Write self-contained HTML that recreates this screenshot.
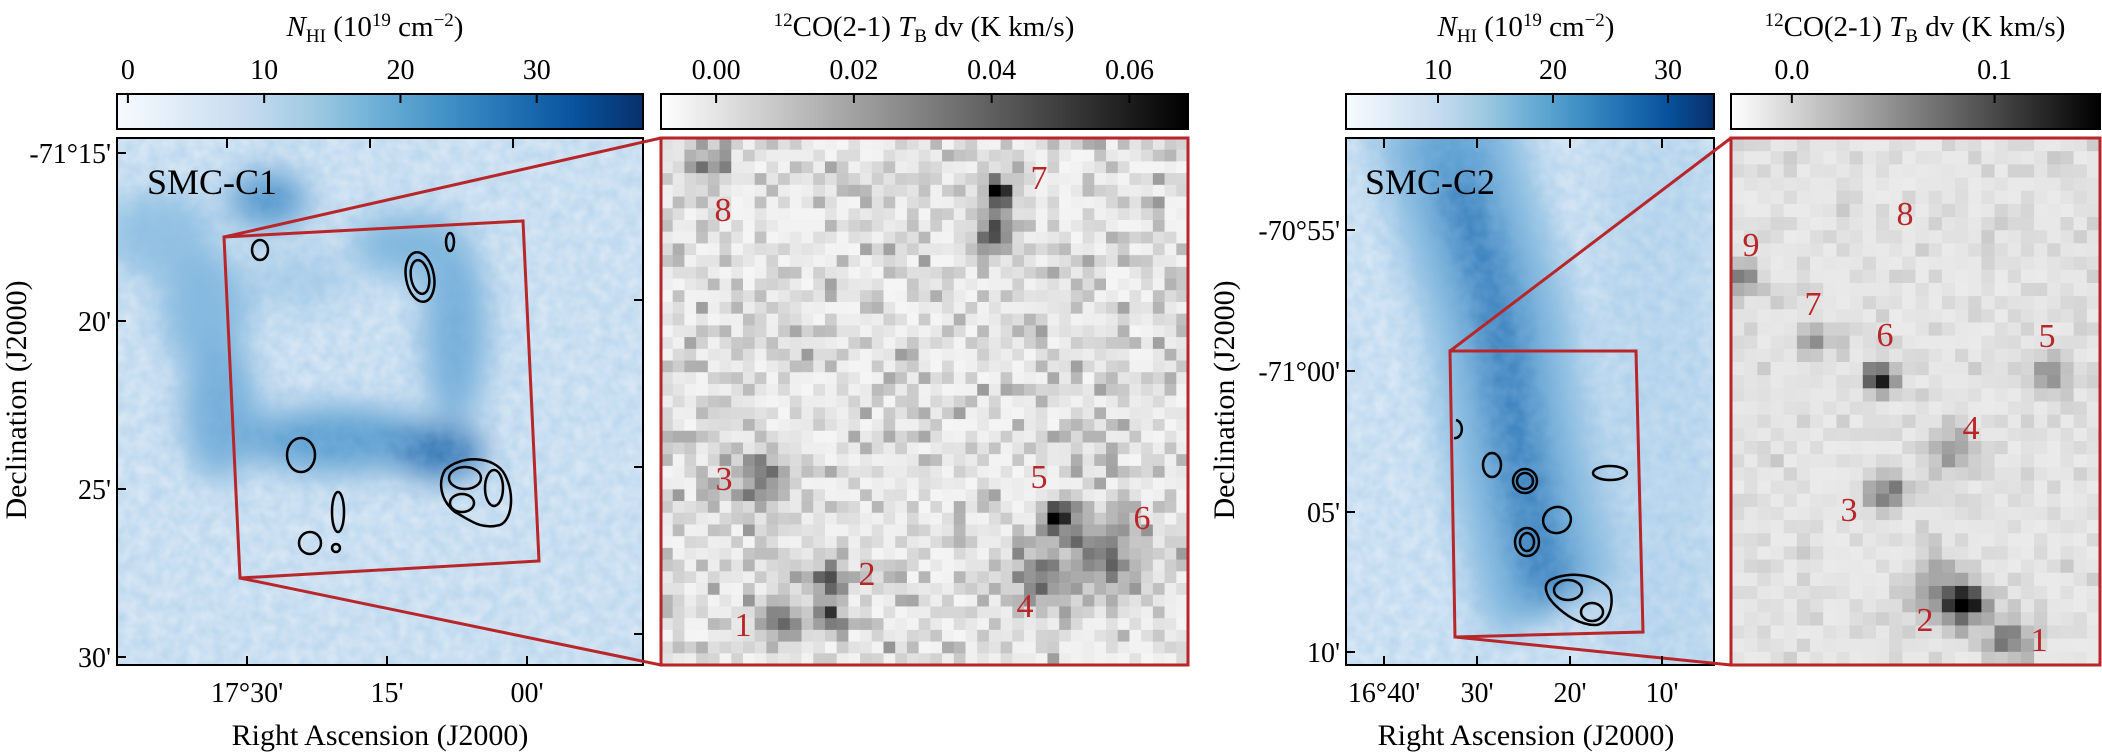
<!DOCTYPE html>
<html><head><meta charset="utf-8"><style>
html,body{margin:0;padding:0;background:#fff;}
svg{display:block;}
svg text{font-family:"Liberation Serif","DejaVu Serif",serif;}
</style></head><body>
<svg id="fig" width="2102" height="755" viewBox="0 0 2102 755" xmlns="http://www.w3.org/2000/svg" font-family="Liberation Serif, serif">
<defs>
<linearGradient id="gBlues" x1="0" x2="1" y1="0" y2="0">
<stop offset="0" stop-color="#f7fbff"/><stop offset="0.125" stop-color="#deebf7"/><stop offset="0.25" stop-color="#c6dbef"/><stop offset="0.375" stop-color="#9ecae1"/><stop offset="0.5" stop-color="#6baed6"/><stop offset="0.625" stop-color="#4292c6"/><stop offset="0.75" stop-color="#2171b5"/><stop offset="0.875" stop-color="#08519c"/><stop offset="1" stop-color="#08306b"/>
</linearGradient>
<linearGradient id="gGreys" x1="0" x2="1" y1="0" y2="0"><stop offset="0" stop-color="#ffffff"/><stop offset="1" stop-color="#000000"/></linearGradient>
<filter id="blur" x="-50%" y="-50%" width="200%" height="200%"><feGaussianBlur stdDeviation="16"/></filter>
<filter id="noise"><feTurbulence type="fractalNoise" baseFrequency="0.08" numOctaves="2" seed="3"/><feColorMatrix type="matrix" values="0 0 0 0 0.25  0 0 0 0 0.5  0 0 0 0 0.78  0 0 0 0.55 -0.12"/></filter>
<clipPath id="c1"><rect x="117" y="138" width="526" height="527"/></clipPath>
<clipPath id="c3"><rect x="1346" y="138" width="368" height="527"/></clipPath>
</defs>

<!-- Panel 1 HI map -->
<g clip-path="url(#c1)">
<rect x="117" y="138" width="526" height="527" fill="#d6e6f4"/>
<g filter="url(#blur)">
<ellipse cx="160" cy="235" rx="55" ry="45" fill="#94c3e3"/>
<ellipse cx="268" cy="200" rx="40" ry="28" fill="#4f94cb"/>
<ellipse cx="205" cy="310" rx="45" ry="60" fill="#86badf"/>
<ellipse cx="220" cy="410" rx="38" ry="70" fill="#74aed9"/>
<ellipse cx="340" cy="440" rx="95" ry="32" fill="#5b9fd0"/>
<ellipse cx="440" cy="452" rx="45" ry="26" fill="#2a6fb0"/>
<ellipse cx="455" cy="330" rx="32" ry="95" fill="#74aed9"/>
<ellipse cx="410" cy="245" rx="60" ry="32" fill="#80b7dd"/>
<ellipse cx="300" cy="280" rx="50" ry="30" fill="#b0d1ea"/>
</g>
<rect x="117" y="138" width="526" height="527" filter="url(#noise)"/>
</g>
<rect x="117" y="138" width="526" height="527" fill="none" stroke="#000" stroke-width="2"/>

<!-- Panel 3 HI map -->
<g clip-path="url(#c3)">
<rect x="1346" y="138" width="368" height="527" fill="#d7e7f5"/>
<g filter="url(#blur)">
<rect x="1600" y="138" width="114" height="527" fill="#c2dbef"/>
<polyline points="1440,110 1470,220 1500,320 1518,450 1545,580 1560,610" fill="none" stroke="#8fc0e2" stroke-width="150"/>
<polyline points="1440,110 1470,220 1500,320 1518,450 1545,580 1560,605" fill="none" stroke="#5ea2d3" stroke-width="80"/>
<polyline points="1455,180 1485,270 1505,360 1520,460 1540,560 1555,595" fill="none" stroke="#2f78b8" stroke-width="34"/>
</g>
<rect x="1346" y="138" width="368" height="527" filter="url(#noise)"/>
</g>
<rect x="1346" y="138" width="368" height="527" fill="none" stroke="#000" stroke-width="2"/>

<!-- CO panels -->
<g id="co2"></g>
<g id="co4"></g>

<!-- contours -->
<g fill="none" stroke="#000" stroke-width="2.5">
<ellipse cx="260" cy="250" rx="8" ry="10"/>
<ellipse cx="420" cy="277" rx="14" ry="25" transform="rotate(-10 420 277)"/>
<ellipse cx="420" cy="277" rx="9" ry="17" transform="rotate(-10 420 277)"/>
<ellipse cx="450" cy="242" rx="4" ry="9"/>
<ellipse cx="301" cy="455" rx="14" ry="17"/>
<ellipse cx="338" cy="512" rx="6" ry="20"/>
<ellipse cx="310" cy="543" rx="11" ry="11"/>
<ellipse cx="336" cy="548" rx="4" ry="4"/>
<path d="M445,470 C460,455 495,455 505,475 C515,495 512,520 500,525 C480,530 470,520 455,512 C440,500 438,482 445,470 Z"/>
<ellipse cx="465" cy="478" rx="16" ry="11"/>
<ellipse cx="462" cy="503" rx="12" ry="9"/>
<ellipse cx="494" cy="488" rx="9" ry="18"/>
</g>
<g fill="none" stroke="#000" stroke-width="2.5">
<path d="M1456,420 a6,8 0 1,1 -2,18"/>
<ellipse cx="1492" cy="465" rx="9" ry="12"/>
<ellipse cx="1525" cy="481" rx="12" ry="12"/><ellipse cx="1525" cy="481" rx="8" ry="8"/>
<ellipse cx="1610" cy="473" rx="17" ry="7"/>
<ellipse cx="1557" cy="520" rx="14" ry="13" transform="rotate(-20 1557 520)"/>
<ellipse cx="1527" cy="542" rx="12" ry="14"/><ellipse cx="1527" cy="542" rx="7" ry="9"/>
<path d="M1550,580 C1570,570 1600,575 1610,590 C1615,605 1608,625 1595,625 C1580,625 1565,615 1555,605 C1545,595 1543,585 1550,580 Z"/>
<ellipse cx="1568" cy="590" rx="14" ry="10"/>
<ellipse cx="1592" cy="612" rx="11" ry="9"/>
</g>

<!-- red boxes and connecting lines -->
<g fill="none" stroke="#b8262a" stroke-width="3">
<polygon points="224,237 523,221 539,561 240,578"/>
<line x1="224" y1="237" x2="661" y2="138"/>
<line x1="240" y1="578" x2="661" y2="665"/>
<rect x="661" y="138" width="527" height="527"/>
</g>
<g fill="none" stroke="#b8262a" stroke-width="3">
<polygon points="1450,351 1636,351 1643,632 1455,637"/>
<line x1="1450" y1="351" x2="1731" y2="138"/>
<line x1="1455" y1="637" x2="1731" y2="665"/>
<rect x="1731" y="138" width="369" height="527"/>
</g>

<!-- region labels -->
<text x="147" y="194" font-size="36">SMC-C1</text>
<text x="1365" y="194" font-size="36">SMC-C2</text>

<g id="srcLabels" fill="#b8262a" font-size="34" text-anchor="middle"></g>

<!-- colorbars -->
<rect x="117" y="94" width="526" height="35" fill="url(#gBlues)" stroke="#000" stroke-width="2"/>
<rect x="661" y="94" width="527" height="35" fill="url(#gGreys)" stroke="#000" stroke-width="2"/>
<rect x="1346" y="94" width="368" height="35" fill="url(#gBlues)" stroke="#000" stroke-width="2"/>
<rect x="1731" y="94" width="369" height="35" fill="url(#gGreys)" stroke="#000" stroke-width="2"/>
<g id="ticks" font-size="28" text-anchor="middle"></g>

<!-- colorbar titles -->
<text x="375" y="36" font-size="29" text-anchor="middle"><tspan font-style="italic">N</tspan><tspan font-size="19" dy="6">HI</tspan><tspan dy="-6"> (10</tspan><tspan font-size="19" dy="-10">19</tspan><tspan dy="10"> cm</tspan><tspan font-size="19" dy="-10">−2</tspan><tspan dy="10">)</tspan></text>
<text x="924" y="36" font-size="29" text-anchor="middle"><tspan font-size="19" dy="-10">12</tspan><tspan dy="10">CO(2-1) </tspan><tspan font-style="italic">T</tspan><tspan font-size="19" dy="6">B</tspan><tspan dy="-6"> dv (K km/s)</tspan></text>
<text x="1526" y="36" font-size="29" text-anchor="middle"><tspan font-style="italic">N</tspan><tspan font-size="19" dy="6">HI</tspan><tspan dy="-6"> (10</tspan><tspan font-size="19" dy="-10">19</tspan><tspan dy="10"> cm</tspan><tspan font-size="19" dy="-10">−2</tspan><tspan dy="10">)</tspan></text>
<text x="1915" y="36" font-size="29" text-anchor="middle"><tspan font-size="19" dy="-10">12</tspan><tspan dy="10">CO(2-1) </tspan><tspan font-style="italic">T</tspan><tspan font-size="19" dy="6">B</tspan><tspan dy="-6"> dv (K km/s)</tspan></text>

<!-- axis titles -->
<text x="380" y="745" font-size="30" text-anchor="middle">Right Ascension (J2000)</text>
<text x="1526" y="745" font-size="30" text-anchor="middle">Right Ascension (J2000)</text>
<text transform="translate(26,400) rotate(-90)" font-size="30" text-anchor="middle">Declination (J2000)</text>
<text transform="translate(1234,400) rotate(-90)" font-size="30" text-anchor="middle">Declination (J2000)</text>
</svg>
<script>
var NS="http://www.w3.org/2000/svg";
// colorbar tick data
var cb1Ticks=[0,10,20,30], cb1Range=[-0.8,37.8];
var cb2Ticks=["0.00","0.02","0.04","0.06"], cb2Range=[-0.008,0.0685];
var cb3Ticks=[10,20,30], cb3Range=[2,34];
var cb4Ticks=["0.0","0.1"], cb4Range=[-0.03,0.152];
// map axis tick labels
var p1YTicks=["-71°15'","20'","25'","30'"];
var p1XTicks=["17°30'","15'","00'"];
var p3YTicks=["-70°55'","-71°00'","05'","10'"];
var p3XTicks=["16°40'","30'","20'","10'"];
// CO source labels
var srcC1=["1","2","3","4","5","6","7","8"];
var srcC2=["1","2","3","4","5","6","7","8","9"];
var srcC1Pos=[[743,625],[867,574],[724,479],[1025,606],[1039,477],[1142,518],[1039,178],[723,210]];
var srcC2Pos=[[2039,640],[1925,620],[1849,510],[1971,428],[2047,336],[1885,335],[1813,304],[1905,214],[1751,245]];
// CO emission peaks (x,y,strength,radius)
var coC1=[[705,165,0.35,14],[1000,195,0.9,10],[993,235,0.6,14],[760,480,0.45,18],[1060,520,0.8,12],[1110,555,0.45,25],[830,580,0.7,10],[828,615,0.6,10],[1040,580,0.35,22],[780,620,0.5,15]];
var coC2=[[1745,280,0.4,10],[1815,340,0.3,12],[1880,378,0.95,10],[2050,372,0.35,14],[1950,450,0.35,15],[1885,493,0.6,12],[1965,605,0.95,14],[1935,590,0.4,18],[2010,640,0.5,14]];

var svg=document.getElementById('fig');
function mk(tag,attrs,parent){var e=document.createElementNS(NS,tag);for(var k in attrs)e.setAttribute(k,attrs[k]);(parent||svg).appendChild(e);return e;}
function lin(d0,d1,r0,r1){return function(v){return r0+(v-d0)/(d1-d0)*(r1-r0);};}

var tg=document.getElementById('ticks');
function colorbar(ticks,range,x0,x1,name){
  var s=lin(range[0],range[1],x0,x1);
  ticks.forEach(function(t){
    var x=s(parseFloat(t));
    var l=mk('line',{x1:x,x2:x,y1:95,y2:103,stroke:'#000','stroke-width':2},tg);
    
    
    var tx=mk('text',{x:x,y:79},tg);tx.textContent=t;
    
    
  });
}
colorbar(cb1Ticks,cb1Range,117,643,'colorbar-hi-c1');
colorbar(cb2Ticks,cb2Range,661,1188,'colorbar-co-c1');
colorbar(cb3Ticks,cb3Range,1346,1714,'colorbar-hi-c2');
colorbar(cb4Ticks,cb4Range,1731,2100,'colorbar-co-c2');

function axisTicks(labels,ypos,left,name){
  labels.forEach(function(t,i){
    var y=ypos[i];
    var l=mk('line',{x1:left,x2:left+9,y1:y,y2:y,stroke:'#000','stroke-width':2},tg);
    
    
    var tx=mk('text',{x:left-6,y:y+10,'text-anchor':'end'},tg);tx.textContent=t;
    
    
  });
}
axisTicks(p1YTicks,[153,321,489,657],117,'hi-c1');
axisTicks(p3YTicks,[230,371,512,652],1346,'hi-c2');
function xTicks(labels,xpos,topx,bottom,name){
  labels.forEach(function(t,i){
    var l=mk('line',{x1:xpos[i],x2:xpos[i],y1:bottom,y2:bottom-9,stroke:'#000','stroke-width':2},tg);
    
    
    var tx=mk('text',{x:xpos[i],y:bottom+37},tg);tx.textContent=t;
    
    
  });
  topx.forEach(function(x){
    var l=mk('line',{x1:x,x2:x,y1:139,y2:148,stroke:'#000','stroke-width':2},tg);
    
    
  });
}
xTicks(p1XTicks,[247,387,527],[227,370,513],665,'hi-c1');
xTicks(p3XTicks,[1384,1477,1570,1662],[1384,1477,1570,1662],665,'hi-c2');
[[643,300],[643,467],[643,634]].forEach(function(p){
  var l=mk('line',{x1:p[0],x2:p[0]-9,y1:p[1],y2:p[1],stroke:'#000','stroke-width':2},tg);
  
  
});

// CO pixel maps (texture noise seeded deterministically)
var seed=12345;function rnd(){seed=(seed*1103515245+12345)%2147483648;return seed/2147483648;}
function coMap(gid,x0,y0,w,h,n,base,amp,peaks){
  var g=document.getElementById(gid);var cw=w/n;var rows=Math.round(h/cw);var ch=h/rows;
  for(var i=0;i<n;i++)for(var j=0;j<rows;j++){
    var cx=x0+(i+0.5)*cw,cy=y0+(j+0.5)*ch;
    var v=base+(rnd()*rnd())*amp;
    peaks.forEach(function(p){var d2=(cx-p[0])*(cx-p[0])+(cy-p[1])*(cy-p[1]);v+=p[2]*Math.exp(-d2/(2*p[3]*p[3]))*(0.6+0.6*rnd());});
    v=Math.min(1,v);var c=Math.round(255*(1-v));
    mk('rect',{x:(x0+i*cw).toFixed(2),y:(y0+j*ch).toFixed(2),width:(cw+0.6).toFixed(2),height:(ch+0.6).toFixed(2),fill:'rgb('+c+','+c+','+c+')'},g);
  }
}
coMap('co2',661,138,527,527,45,0.04,0.38,coC1);
coMap('co4',1731,138,369,527,28,0.08,0.14,coC2);

var sl=document.getElementById('srcLabels');
function labels(names,pos,name){
  names.forEach(function(t,i){
    var tx=mk('text',{x:pos[i][0],y:pos[i][1]+11},sl);tx.textContent=t;
    
    
  });
}
labels(srcC1,srcC1Pos,'source-label-c1');
labels(srcC2,srcC2Pos,'source-label-c2');
</script>
</body></html>
